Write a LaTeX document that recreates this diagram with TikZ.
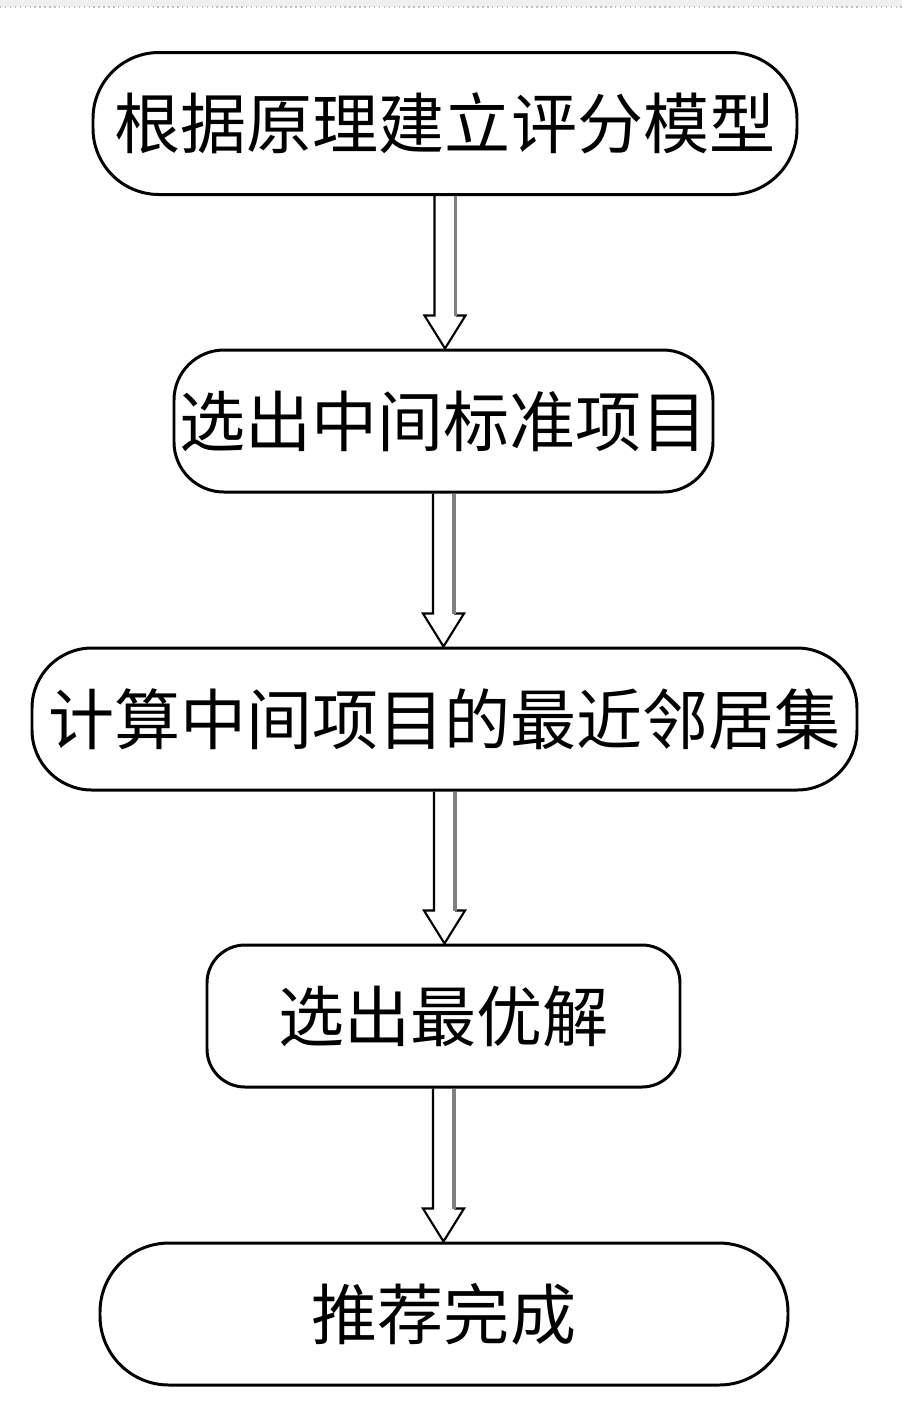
\documentclass[tikz,border=0pt]{standalone}
\usepackage{fontspec}
\newfontfamily\cjk{Noto Sans CJK SC}
\usetikzlibrary{calc}

% hollow down arrow from the bottom of one box to the top of the next
\newcommand{\hollowarrow}[2]{%
  \draw[shaft] ($(#1.south)+(-10.5,0)$) -- ($(#1.south |- #2.north)+(-10.5,-33)$)
    -- ($(#1.south |- #2.north)+(-20.5,-33)$) -- (#1.south |- #2.north)
    -- ($(#1.south |- #2.north)+(20.5,-33)$) -- ($(#1.south |- #2.north)+(10.5,-33)$);
  \draw[shade] ($(#1.south)+(10.5,0)$) -- ($(#1.south |- #2.north)+(10.5,-33)$);
}

\begin{document}
\begin{tikzpicture}[
  x=0.1mm, y=-0.1mm,
  stepbox/.style={draw, line width=0.85pt, fill=white, inner sep=0pt,
    minimum height=14.2mm, font=\cjk\fontsize{18.8}{22}\selectfont},
  shaft/.style={line width=0.6pt, line join=miter},
  shade/.style={black!50, line width=1pt},
]
  \useasboundingbox (0,0) rectangle (902,1412);
  \fill[black!6] (0,0) rectangle (902,7);
  \draw[black!25, densely dotted] (0,7) -- (902,7);

  \node[stepbox, minimum width=70.4mm, rounded corners=6.6mm] (model) at (445,123.5) {根据原理建立评分模型};
  \node[stepbox, minimum width=53.9mm, rounded corners=5mm] (middle) at (443.5,421) {选出中间标准项目};
  \node[stepbox, minimum width=82.5mm, rounded corners=6mm] (near) at (444.5,719) {计算中间项目的最近邻居集};
  \node[stepbox, minimum width=47.3mm, rounded corners=3.8mm] (best) at (443.5,1016) {选出最优解};
  \node[stepbox, minimum width=68.8mm, rounded corners=6.9mm] (done) at (444,1314) {推荐完成};

  \hollowarrow{model}{middle}
  \hollowarrow{middle}{near}
  \hollowarrow{near}{best}
  \hollowarrow{best}{done}
\end{tikzpicture}
\end{document}
